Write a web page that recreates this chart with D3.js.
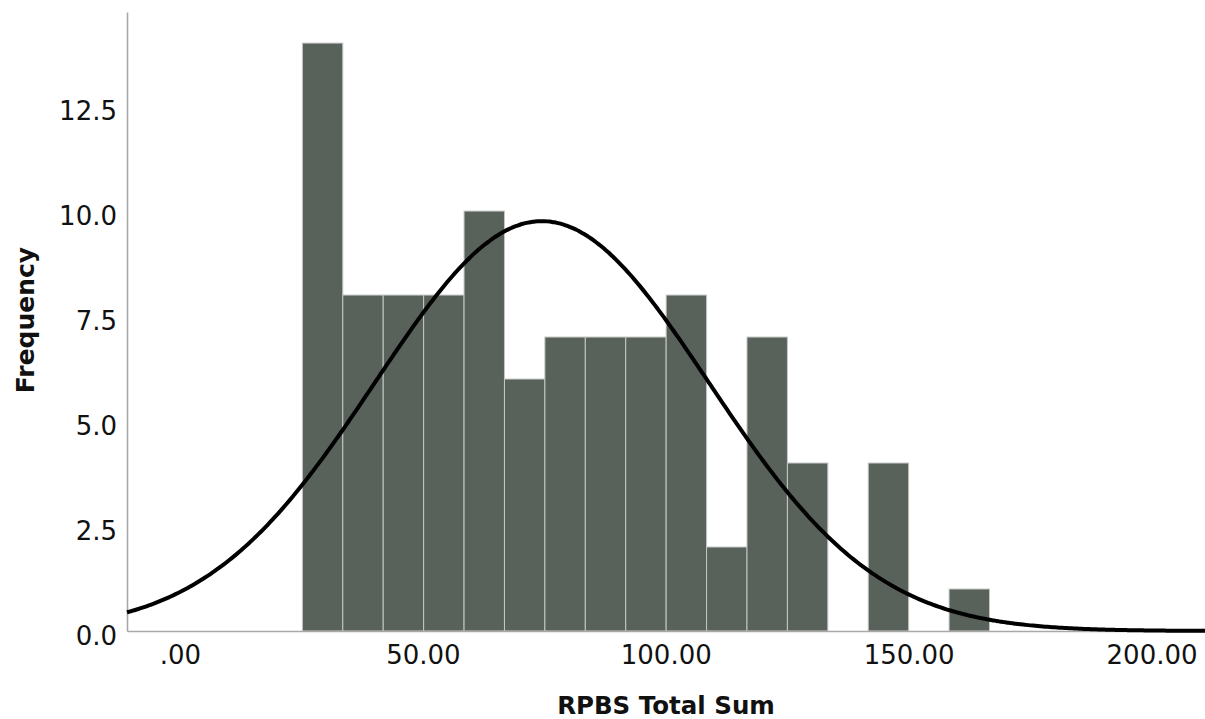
<!DOCTYPE html>
<html>
<head>
<meta charset="utf-8">
<script src="https://cdn.jsdelivr.net/npm/d3@7"></script>
<style>
  html, body { margin: 0; padding: 0; background: #fff; }
  svg { display: block; }
  .tick text { font-family: "DejaVu Sans", sans-serif; fill: #111; }
</style>
</head>
<body>
<svg id="chart" width="1205" height="719"></svg>
<script>
// ---- Data ----
const binStart = 25.2;          // left edge of first bin
const binWidth = 8.32;          // width of each bin
const counts = [14, 8, 8, 8, 10, 6, 7, 7, 7, 8, 2, 7, 4, 0, 4, 0, 1];
const xTickValues = [0, 50, 100, 150, 200];
const xTickLabels = [".00", "50.00", "100.00", "150.00", "200.00"];
const yTickValues = [0, 2.5, 5, 7.5, 10, 12.5];
const yTickLabels = ["0.0", "2.5", "5.0", "7.5", "10.0", "12.5"];
const normalMean = 74.5;
const normalSD = 34.35;
const xDomain = [-10.9, 211];
const yDomain = [0, 14.74];
const xTitle = "RPBS Total Sum";
const yTitle = "Frequency";

// ---- Layout ----
const svg = d3.select("#chart");
const plotLeft = 127, plotRight = 1205, plotTop = 12, plotBottom = 631;

const x = d3.scaleLinear().domain(xDomain).range([plotLeft, plotRight]);
const y = d3.scaleLinear().domain(yDomain).range([plotBottom, plotTop]);

const bins = counts.map((c, i) => ({
  x0: binStart + i * binWidth,
  x1: binStart + (i + 1) * binWidth,
  count: c
})).filter(d => d.count > 0);

// Bars
svg.append("g").selectAll("rect").data(bins).join("rect")
  .attr("x", d => x(d.x0))
  .attr("y", d => y(d.count))
  .attr("width", d => x(d.x1) - x(d.x0))
  .attr("height", d => y(0) - y(d.count))
  .attr("fill", "#59615b")
  .attr("stroke", "#c4c8c5")
  .attr("stroke-width", 1);

// Axes
const yAxis = d3.axisLeft(y)
  .tickValues(yTickValues)
  .tickFormat((d, i) => yTickLabels[i])
  .tickSize(0)
  .tickPadding(10);
const gy = svg.append("g").attr("transform", `translate(${plotLeft},0)`).call(yAxis);
gy.select(".domain").attr("stroke", "#a8a8a8").attr("stroke-width", 1.6);
gy.selectAll(".tick text").attr("font-size", 26).attr("dy", "0.5em");

const xAxis = d3.axisBottom(x)
  .tickValues(xTickValues)
  .tickFormat((d, i) => xTickLabels[i])
  .tickSize(0)
  .tickPadding(15);
const gx = svg.append("g").attr("transform", `translate(0,${plotBottom})`).call(xAxis);
gx.select(".domain").attr("stroke", "#a8a8a8").attr("stroke-width", 1.6);
gx.selectAll(".tick text").attr("font-size", 26);

// Normal curve (fitted: n * binWidth * normal pdf)
const n = d3.sum(counts);
const pdf = v => n * binWidth / (normalSD * Math.sqrt(2 * Math.PI)) *
  Math.exp(-0.5 * Math.pow((v - normalMean) / normalSD, 2));
const curvePts = d3.range(xDomain[0], xDomain[1] + 0.5, 0.5).map(v => [v, pdf(v)]);
svg.append("path")
  .datum(curvePts)
  .attr("fill", "none")
  .attr("stroke", "#000")
  .attr("stroke-width", 4)
  .attr("d", d3.line().x(d => x(d[0])).y(d => y(d[1])).curve(d3.curveBasis));

// Titles
svg.append("text")
  .attr("x", (plotLeft + plotRight) / 2)
  .attr("y", 714)
  .attr("text-anchor", "middle")
  .attr("font-family", "DejaVu Sans, sans-serif")
  .attr("font-weight", "bold")
  .attr("font-size", 24.5)
  .attr("fill", "#111")
  .text(xTitle);

svg.append("text")
  .attr("transform", "translate(34,320) rotate(-90)")
  .attr("text-anchor", "middle")
  .attr("font-family", "DejaVu Sans, sans-serif")
  .attr("font-weight", "bold")
  .attr("font-size", 25)
  .attr("fill", "#111")
  .text(yTitle);
</script>
</body>
</html>
